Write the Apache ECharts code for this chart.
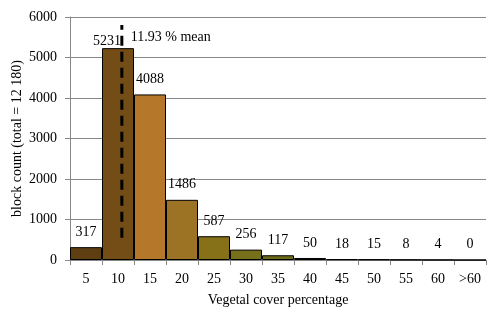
<!DOCTYPE html>
<html><head><meta charset="utf-8">
<script src="https://cdn.jsdelivr.net/npm/echarts@6/dist/echarts.min.js"></script>
<style>html,body{margin:0;padding:0;background:#fff}#c{width:504px;height:314px}</style>
</head><body><div id="c"></div>
<script>
const categories = ['5','10','15','20','25','30','35','40','45','50','55','60','>60'];
const counts = [317,5231,4088,1486,587,256,117,50,18,15,8,4,0];
const barColors = ['#5f3f12','#744c15','#b5782a','#9c7224','#867119','#77701b','#6e6a18','#6a6616','#6a6616','#6a6616','#6a6616','#6a6616','#6a6616'];
const meanPos = [1.62, 1.62];        // in category-index units
const meanLineY = [550, 5800];
const meanLabel = '11.93 % mean';

const font = 'Liberation Serif';
const chart = echarts.init(document.getElementById('c'));
chart.setOption({
  animation:false,
  textStyle:{fontFamily:font},
  grid:{left:70,right:18,top:17,bottom:54,containLabel:false,outerBoundsMode:'none'},
  xAxis:[{
    type:'category', data:categories,
    axisLine:{lineStyle:{color:'#888'}},
    axisTick:{show:true,length:5,lineStyle:{color:'#888'}},
    axisLabel:{color:'#000',fontSize:14,fontFamily:font,margin:12},
    name:'Vegetal cover percentage', nameLocation:'middle', nameGap:33, nameMoveOverlap:false,
    nameTextStyle:{color:'#000',fontSize:14,fontFamily:font}
  },{
    type:'value', min:0, max:13, show:false
  }],
  yAxis:{
    type:'value', min:0, max:6000, interval:1000,
    axisLine:{show:true,lineStyle:{color:'#888'}},
    axisTick:{show:true,length:5,lineStyle:{color:'#888'}},
    splitLine:{lineStyle:{color:'#888'}},
    axisLabel:{color:'#000',fontSize:14,fontFamily:font,margin:13,formatter:v=>String(v)},
    name:'block count (total = 12 180)', nameLocation:'middle', nameGap:46, nameMoveOverlap:false,
    nameTextStyle:{color:'#000',fontSize:14,fontFamily:font}
  },
  series:[{
    type:'bar', barCategoryGap:'0%',
    data:counts.map((v,i)=>{
      const d={value:v,itemStyle:{color:barColors[i]}};
      if(i===1) d.label={offset:[-11,8]};
      return d;
    }),
    itemStyle:{borderColor:'#000',borderWidth:1},
    label:{show:true,position:'top',distance:8,color:'#000',fontSize:14,fontFamily:font}
  },{
    type:'line', xAxisIndex:1, symbol:'none',
    data:[[meanPos[0],meanLineY[0]],[meanPos[1],meanLineY[1]]],
    lineStyle:{color:'#000',width:3,type:[10,6]},
    z:5
  },{
    type:'scatter', xAxisIndex:1, symbolSize:0,
    itemStyle:{opacity:1},
    data:[[meanPos[1],meanLineY[1]]],
    label:{show:true,formatter:meanLabel,color:'#000',opacity:1,fontSize:14,fontFamily:font,
      position:'right',distance:0,offset:[9,12]},
    z:6
  }]
});
</script></body></html>
